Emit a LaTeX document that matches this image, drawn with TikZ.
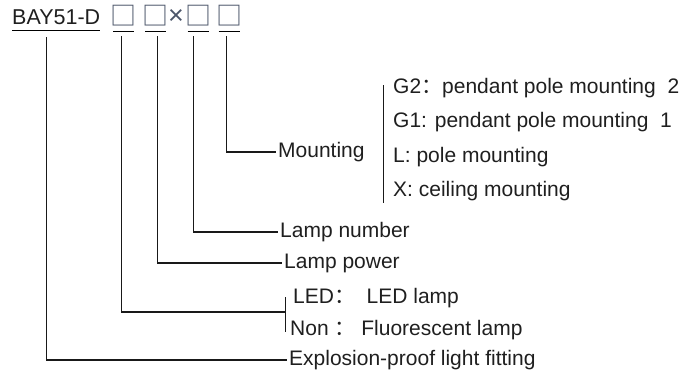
\documentclass[tikz,border=0pt]{standalone}
\usepackage{fontspec}
\setmainfont{Liberation Sans}
\newfontfamily\cjk{Noto Sans CJK SC}
\usetikzlibrary{calc}
\definecolor{boxgray}{RGB}{75,85,105}

\begin{document}
\begin{tikzpicture}[
		x=1pt, y=1pt,
		every node/.style={font=\fontsize{21}{25}\selectfont, text=black!88},
		code/.style={anchor=base west, inner xsep=0pt, inner ysep=6pt, text height=15pt, text depth=0pt, font=\fontsize{21.5}{25}\selectfont},
		slot/.style={code, inner xsep=-2.5pt, text=boxgray, font=\fontsize{26}{30}\selectfont\cjk},
		lbl/.style={anchor=west, inner xsep=2pt, inner ysep=0pt, text height=15pt, text depth=4.5pt},
		lead/.style={line width=1.3pt, black!90},
		brace/.style={line width=1pt, black!90}
		]
		\useasboundingbox (0,0) rectangle (682,-372);
		
		% --------------------------------------------------
		% Type code
		% --------------------------------------------------
		\node[code] (bay) at (12,-24) {BAY51-D};
		\node[slot] (b1) at (113,-25) {□};
		\node[slot] (b2) at (145,-25) {□};
		\node[anchor=base, text=boxgray, font=\fontsize{27}{30}\selectfont] (times) at (176,-24) {×};
		\node[slot] (b3) at (187.5,-25) {□};
		\node[slot] (b4) at (218.5,-25) {□};
		
		\foreach \n in {bay,b1,b2,b3,b4}
		\draw[line width=1pt] (\n.south west) -- (\n.south east);
		
		% --------------------------------------------------
		% Meanings
		% --------------------------------------------------
		\node[lbl] (mount) at (276,-152) {Mounting};
		\node[lbl] (number) at (278,-232) {Lamp number};
		\node[lbl] (power) at (282,-263) {Lamp power};
		\coordinate (ledbar) at (285,-312);
		\node[lbl] (led) at (291,-298) {LED{\cjk ：}\ \ LED lamp};
		\node[lbl] (non) at (288,-330) {Non\ {\cjk ：}\ Fluorescent lamp};
		\node[lbl] (expl) at (287,-360) {Explosion-proof light fitting};
		
		% mounting options
		\node[lbl] (g2) at (391,-88) {G2{\cjk ：}pendant pole mounting\ \ 2};
		\node[lbl] (g1) at (391,-122.5) {G1: pendant pole mounting\ \ 1};
		\node[lbl] (pole) at (391,-157) {L: pole mounting};
		\node[lbl] (ceil) at (391,-191.5) {X: ceiling mounting};
		
		\draw[brace] ($(g2.west)+(-8,3)$) -- ($(ceil.west)+(-8,-11)$);
		\draw[brace] ($(led.west)+(-6,1)$) -- ($(non.west)+(-3,-2)$);
		
		% --------------------------------------------------
		% Leads
		% --------------------------------------------------
		\draw[lead] ($(bay.south)+(-9.5,-7)$) |- (expl.west);
		\draw[lead] ($(b1.south)+(-2.5,-5)$) |- (ledbar);
		\draw[lead] ($(b2.south)+(1.5,-5)$) |- (power.west);
		\draw[lead] ($(b3.south)+(-5,-5)$) |- (number.west);
		\draw[lead] ($(b4.south)+(-3,-5)$) |- (mount.west);
		
	\end{tikzpicture}
\end{document}
